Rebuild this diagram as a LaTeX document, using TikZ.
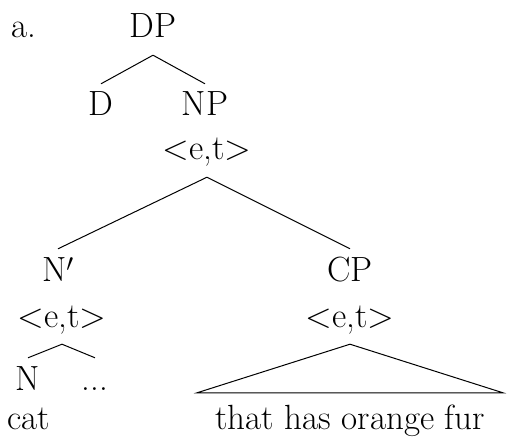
\documentclass[tikz,border=0pt]{standalone}
\usepackage{fontspec}
\usepackage{tikz}

\begin{document}
\begin{tikzpicture}[x=1pt,y=-1pt,
	word/.style={inner sep=0pt,anchor=base,text height=32pt,text depth=17pt,font=\fontsize{35}{40}\selectfont},
	leaf/.style={inner xsep=18pt,inner ysep=0pt,anchor=base,text height=36pt,text depth=0pt,font=\fontsize{35}{40}\selectfont}]
	\useasboundingbox (0,0) rectangle (516,438);
	\node[word,anchor=base west] (a) at (11,38) {a.};
	\node[word] (dp) at (153,38) {DP};
	\node[word] (d) at (101,116) {D};
	\node[word] (np) at (205,116) {NP};
	\node[word] (npt) at (207,160) {<e,t>};
	\node[word] (nbar) at (58,281) {N$'$};
	\node[word] (nbt) at (62,327) {<e,t>};
	\node[word] (cp) at (350,281) {CP};
	\node[word] (cpt) at (350,327) {<e,t>};
	\node[word] (n) at (28,390) {N};
	\node[word] (dots) at (95,390) {...};
	\node[word] (cat) at (29,429) {cat};
	\node[leaf] (fur) at (350,429) {that has orange fur};
	
	\foreach \x/\y in {dp/d,dp/np,npt/nbar,npt/cp,nbt/n,nbt/dots}
		\draw[black,line width=1pt] (\x.south) -- (\y.north);
	\draw[black,line width=1pt] (cpt.south) -- (fur.north west) -- (fur.north east) -- cycle;
\end{tikzpicture}
\end{document}
